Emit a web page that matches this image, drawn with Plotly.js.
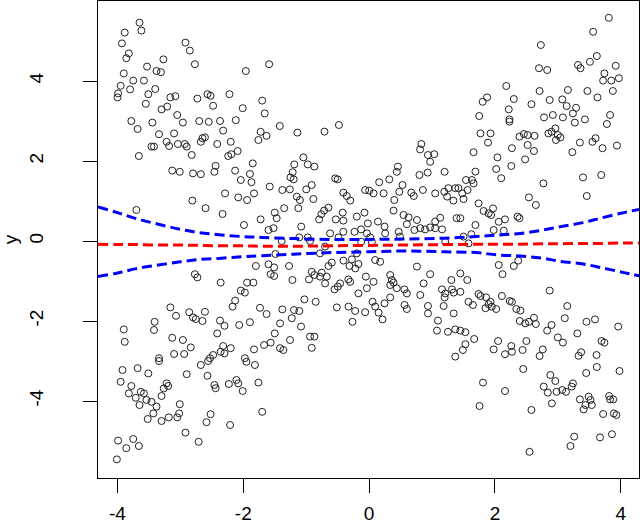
<!DOCTYPE html>
<html>
<head>
<meta charset="utf-8">
<script src="https://cdn.plot.ly/plotly-3.0.1.min.js"></script>
<style>
  html, body { margin: 0; padding: 0; background: #fff; }
  #chart { width: 640px; height: 526px; }
</style>
</head>
<body>
<div id="chart"></div>
<script>
// Scatter points, read off the picture region by region
// upper-left arm
const upLeftX = [-3.65,-3.62,-3.885,-3.93,-3.82,-3.86,-2.92,-2.85,-2.77,-3.27,-3.53,-3.38,-3.31,-3.90,-3.75,-3.58,-3.95,-3.80,-3.99,-4.00,-3.51,-3.40,-3.55,-3.16,-3.08,-2.73,-2.57,-2.52,-2.48,-2.22,-1.96,-1.59,-1.70,-2.01,-1.66,-3.30,-3.21,-3.05];
const upLeftY = [5.46,5.26,5.21,4.94,4.69,4.57,4.96,4.76,4.42,4.54,4.36,4.25,4.22,4.19,4.01,4.01,3.88,3.79,3.69,3.59,3.67,3.80,3.43,3.59,3.62,3.56,3.67,3.63,3.38,3.67,4.25,4.42,3.51,3.32,3.19,3.29,3.36,3.15];
const midLeftX = [-3.78,-3.68,-3.445,-2.96,-2.70,-2.55,-2.37,-2.12,-2.32,-3.34,-3.10,-3.22,-3.18,-3.46,-3.42,-3.04,-2.93,-2.90,-2.82,-3.66,-2.65,-2.61,-2.675,-2.415,-2.20,-2.09,-2.19,-2.24,-1.725,-1.63,-1.76,-1.85,-3.13,-3.01,-2.80,-2.675,-2.46,-2.44,-2.13,-1.895,-2.04,-1.87,-1.58,-2.29,-2.08,-1.94,-1.83,-2.81,-2.60,-2.33,-3.70,-1.50,-1.47,-1.725,-1.99,-1.60,-1.52];
const midLeftY = [3.00,2.80,2.96,2.96,3.00,2.98,3.00,3.02,2.76,2.67,2.69,2.48,2.375,2.36,2.36,2.425,2.425,2.36,2.15,2.125,2.57,2.59,2.48,2.425,2.48,2.25,2.17,2.125,2.73,2.63,2.525,1.94,1.76,1.73,1.69,1.67,1.73,1.88,1.76,1.675,1.525,1.47,1.36,1.19,1.09,1.025,1.19,1.01,0.82,0.675,0.775,0.71,0.57,0.54,0.40,0.275,0.32];
// lower-left arm
const lowLeftX = [-1.49,-1.80,-1.60,-1.51,-1.565,-1.51,-2.77,-2.73,-2.36,-1.94,-1.84,-2.04,-1.975,-2.13,-2.17,-1.735,-1.63,-3.16,-3.07,-2.86,-2.80,-2.755,-2.65,-2.61,-2.37,-2.30,-2.415,-2.065,-1.895,-3.41,-3.42,-3.90,-3.885,-3.13,-2.96,-2.835,-3.10,-2.94,-2.32,-2.20,-2.36,-2.30,-2.48,-1.83,-1.67,-1.565,-1.50,-3.34,-2.53,-1.975];
const lowLeftY = [-0.325,-0.625,-0.58,-0.66,-0.83,-0.875,-0.83,-0.91,-1.04,-1.04,-1.04,-1.24,-1.29,-1.49,-1.64,-1.67,-1.825,-1.66,-1.87,-1.78,-1.91,-1.95,-2.00,-1.77,-1.99,-2.12,-2.31,-2.10,-2.03,-2.02,-2.225,-2.21,-2.52,-2.42,-2.475,-2.66,-2.825,-2.825,-2.625,-2.68,-2.77,-2.81,-2.85,-2.71,-2.60,-2.54,-2.31,-2.93,-2.93,-2.93];
const botLeftX = [-3.92,-3.68,-3.51,-3.95,-3.78,-3.82,-3.71,-3.63,-3.58,-3.65,-3.54,-3.46,-3.38,-3.43,-3.52,-3.30,-3.30,-3.265,-3.22,-3.195,-3.185,-3.01,-3.02,-3.05,-2.90,-2.675,-2.56,-2.57,-2.46,-2.44,-2.52,-2.585,-2.23,-2.11,-2.08,-2.01,-1.76,-1.95,-1.815,-1.70,-2.21,-2.92,-2.71,-3.99,-3.75,-3.86,-3.66,-4.01,-3.34];
const botLeftY = [-3.225,-3.18,-3.31,-3.52,-3.625,-3.81,-3.92,-3.77,-3.81,-4.10,-3.975,-4.02,-4.14,-4.31,-4.45,-4.50,-3.875,-3.685,-3.56,-3.625,-4.41,-4.08,-4.31,-4.41,-3.33,-3.10,-3.00,-3.37,-3.60,-3.68,-4.33,-4.53,-3.575,-3.475,-3.56,-3.75,-3.54,-3.02,-3.10,-4.27,-4.60,-4.79,-5.02,-4.99,-4.95,-5.18,-5.125,-5.46,-3.0];
// upper-right arm
const upRightX = [3.81,3.56,2.73,2.70,2.83,3.32,3.36,3.51,3.62,3.92,3.74,3.72,3.85,3.97,3.875,2.18,1.875,1.805,2.30,2.71,2.87,3.07,3.14,3.16,2.58,2.22,3.47,3.63,3.29,3.24,1.75,2.23,2.78,2.92,3.08,3.83,3.43];
const upRightY = [5.58,5.23,4.90,4.32,4.275,4.40,4.32,4.48,4.625,4.38,4.19,4.01,4.01,4.07,3.75,3.875,3.59,3.48,3.55,3.75,3.525,3.54,3.375,3.775,3.42,3.29,3.75,3.59,3.33,3.19,3.125,3.04,3.09,3.15,3.09,3.15,3.04];
const midRightX = [2.23,3.27,3.78,1.77,1.93,1.89,2.39,2.46,2.52,2.63,2.85,2.90,2.96,3.00,3.04,2.97,2.52,2.62,2.27,1.66,2.04,2.48,2.26,2.02,2.10,1.69,1.54,1.635,1.66,1.565,1.42,1.48,1.50,2.77,3.23,3.35,3.55,3.60,3.71,3.94,3.40,3.69,3.46,2.54,2.65,1.74,1.82,1.94,1.97,1.90,1.45,2.36,2.39,2.16,2.06,1.69,1.98,2.14,1.625,1.50];
const midRightY = [2.985,2.96,2.925,2.69,2.69,2.46,2.61,2.675,2.65,2.63,2.69,2.73,2.815,2.65,2.59,2.525,2.40,2.25,2.32,2.22,2.09,2.04,1.875,1.80,1.57,1.735,1.525,1.525,1.44,1.275,1.32,1.19,1.05,1.44,2.22,2.46,2.48,2.57,2.32,2.385,1.59,1.65,1.125,1.09,0.90,0.94,0.75,0.65,0.815,0.69,0.57,0.61,0.57,0.54,0.48,0.40,0.275,0.26,0.17,0.11];
// lower-right arm
const lowRightX = [1.58,2.06,2.30,2.37,2.12,1.45,1.56,1.45,2.87,1.74,1.77,1.86,1.58,1.65,1.85,1.90,1.93,1.95,2.02,2.11,2.235,2.27,2.34,2.405,3.15,3.11,2.62,2.395,2.48,2.54,2.65,2.90,2.83,3.455,3.59,3.96,3.31,1.45,1.53,1.67,1.53,1.49,2.05,2.50,3.00,3.08,3.695,3.74,1.98,2.26,2.27,2.16,2.44,2.76,2.71,3.37,3.33,3.615];
const lowRightY = [-0.06,-0.60,-0.625,-0.49,-0.83,-0.81,-0.975,-1.27,-1.24,-1.325,-1.375,-1.41,-1.52,-1.60,-1.68,-1.58,-1.52,-1.64,-1.70,-1.375,-1.50,-1.52,-1.70,-1.74,-1.625,-1.93,-1.92,-2.0,-2.06,-2.02,-2.075,-2.10,-2.24,-2.02,-1.96,-2.14,-2.31,-2.24,-2.28,-2.45,-2.58,-2.725,-2.50,-2.50,-2.41,-2.54,-2.50,-2.54,-2.71,-2.625,-2.77,-2.83,-2.725,-2.71,-2.875,-2.78,-2.87,-2.85];
const botRightX = [1.81,1.755,2.16,2.58,2.55,2.775,2.84,2.905,2.98,3.07,3.13,3.22,3.24,2.96,3.35,3.41,3.44,3.49,3.54,3.52,3.72,3.815,3.83,3.88,3.93,3.89,3.67,3.86,3.26,3.20,2.45,3.45,3.62,3.98,2.88];
const botRightY = [-3.54,-4.125,-3.75,-4.225,-5.27,-3.64,-3.79,-4.06,-3.77,-3.725,-3.77,-3.64,-3.56,-3.50,-3.96,-4.21,-4.10,-3.89,-4.10,-3.975,-4.325,-3.875,-3.96,-3.96,-4.35,-4.31,-4.91,-4.83,-4.89,-5.125,-3.2,-3.3,-3.15,-3.25,-3.35];
// centre of the X
const centreUpX = [-1.42,-1.14,-0.71,-0.48,0.83,0.81,0.935,1.035,0.97,-1.045,-1.19,-0.976,-0.87,-1.215,-1.25,-1.20,0.457,0.44,0.80,0.93,1.20,-0.54,-0.50,0.16,0.32,0.53,-0.913,-1.00,-1.38,-1.26,-0.41,-0.355,-0.30,-0.063,0.001,0.07,0.23,0.48,0.40,0.67,0.71,0.855,1.05,1.195,1.26,1.24,1.34,1.37,-1.15,-1.10,-0.886,-1.125,-1.35,-0.647,-0.716,-0.76,-0.42,-0.074,-0.196,-0.795,-0.53,-0.41,0.388,0.547,0.627,0.76,1.13,1.05,1.39,-0.02,0.14,0.245,-1.08,-0.62,-0.487,-0.41,-0.233,-0.127,-0.036,0.255,0.47,0.60,0.72,0.813,0.89,0.97,1.05,1.16,-1.11,-0.976,0.49,0.017];
const centreUpY = [2.875,2.71,2.735,2.90,2.425,2.29,2.15,2.17,1.98,2.09,1.915,1.915,1.86,1.72,1.59,1.54,1.86,1.73,1.65,1.71,1.73,1.565,1.54,1.47,1.54,1.40,1.40,1.29,1.275,1.29,1.21,1.125,1.01,1.275,1.26,1.19,1.19,1.23,1.025,1.21,1.125,1.275,1.19,1.23,1.32,1.11,1.01,1.32,1.11,1.025,1.05,0.82,0.82,0.835,0.76,0.67,0.71,0.71,0.61,0.54,0.54,0.51,0.76,0.65,0.59,0.525,0.58,0.485,0.57,0.44,0.485,0.36,0.36,0.19,0.09,0.23,0.23,0.29,0.19,0.19,0.23,0.42,0.275,0.32,0.29,0.34,0.32,0.29,0.09,0.09,0.11,0.09];
const centreLowX = [-0.70,-1.39,-0.94,-0.127,0.043,1.21,-0.78,-0.196,-0.408,-0.275,-0.17,-0.312,-0.22,0.096,0.176,0.76,-1.273,-1.22,-0.912,-0.87,-0.753,-0.78,-0.673,-0.70,-0.594,-0.647,-0.955,-0.461,-0.498,-0.55,-0.33,-0.302,-0.052,-0.036,-0.17,0.07,0.335,0.36,0.388,0.335,0.56,0.60,0.44,0.335,0.813,0.866,0.97,1.158,1.307,1.317,1.344,1.21,1.20,-1.38,-1.194,-1.11,-1.23,-1.029,-0.85,-0.514,-0.328,-0.222,-0.265,-0.063,0.054,0.096,0.149,0.213,0.245,0.563,0.60,0.935,0.935,1.184,1.344,1.094,-1.416,-1.082,-1.257,-0.939,-0.87,-1.416,-1.363,-0.912,1.078,1.253,1.37,1.37];
const centreLowY = [-0.14,0.0,0.0,-0.02,-0.02,-0.02,-0.31,-0.31,-0.49,-0.46,-0.575,-0.625,-0.685,-0.475,-0.52,-0.64,-0.625,-0.975,-0.77,-0.85,-0.79,-0.89,-0.89,-1.06,-0.54,-0.625,-0.96,-1.06,-1.14,-1.21,-0.96,-1.02,-0.89,-1.18,-1.31,-1.02,-0.85,-0.975,-1.04,-1.10,-1.21,-1.31,-1.18,-1.41,-1.35,-1.06,-0.83,-1.21,-0.975,-1.21,-1.29,-1.31,-1.41,-1.71,-1.725,-1.75,-1.93,-1.46,-1.52,-1.66,-1.64,-1.75,-2.02,-1.78,-1.52,-1.64,-1.79,-1.96,-1.56,-1.60,-1.70,-1.625,-1.81,-1.625,-1.81,-1.99,-2.06,-2.14,-2.475,-2.39,-2.39,-2.68,-2.725,-2.67,-2.24,-2.27,-2.21,-2.89];

// fitted line and its band
const fitX   = [-4.31,-4,-3.7,-3.35,-3,-2.7,-2.35,-2,-1.7,-1.2,-0.6,0,0.6,1.2,1.7,2.05,2.4,2.75,3.05,3.4,3.7,4.05,4.29];
const fitY   = [-0.08,-0.09,-0.09,-0.10,-0.10,-0.11,-0.12,-0.12,-0.13,-0.13,-0.12,-0.11,-0.10,-0.09,-0.08,-0.08,-0.08,-0.07,-0.07,-0.06,-0.06,-0.05,-0.05];
const upperY = [0.85,0.71,0.56,0.42,0.29,0.21,0.15,0.11,0.09,0.06,0.04,0.04,0.05,0.07,0.11,0.15,0.19,0.27,0.36,0.46,0.58,0.71,0.79];
const lowerY = [-0.89,-0.80,-0.69,-0.60,-0.52,-0.46,-0.43,-0.39,-0.37,-0.33,-0.29,-0.27,-0.25,-0.27,-0.29,-0.35,-0.375,-0.43,-0.51,-0.575,-0.67,-0.79,-0.87];

const tickVals = [-4, -2, 0, 2, 4];
const tickText = ['-4', '-2', '0', '2', '4'];

const allX = [].concat(upLeftX, midLeftX, lowLeftX, botLeftX, upRightX, midRightX, lowRightX, botRightX, centreUpX, centreLowX);
const allY = [].concat(upLeftY, midLeftY, lowLeftY, botLeftY, upRightY, midRightY, lowRightY, botRightY, centreUpY, centreLowY);

const dashStyle = '10px,5px';

const traces = [
    {
        x: allX, y: allY,
        type: 'scatter', mode: 'markers',
        marker: { symbol: 'circle-open', size: 7, color: '#222', line: { width: 1 } },
        hoverinfo: 'skip'
    },
    {
        x: fitX, y: upperY, type: 'scatter', mode: 'lines',
        line: { color: '#0000ff', width: 3, dash: dashStyle, shape: 'spline' }
    },
    {
        x: fitX, y: lowerY, type: 'scatter', mode: 'lines',
        line: { color: '#0000ff', width: 3, dash: dashStyle, shape: 'spline' }
    },
    {
        x: fitX, y: fitY, type: 'scatter', mode: 'lines',
        line: { color: '#ff0000', width: 3, dash: dashStyle, shape: 'spline' }
    }
];

const axisFont = { family: 'Liberation Sans, Arial, sans-serif', size: 19, color: '#000' };

const layout = {
    width: 640,
    height: 526,
    margin: { l: 98, r: 1, t: 1, b: 48 },
    showlegend: false,
    paper_bgcolor: '#fff',
    plot_bgcolor: '#fff',
    xaxis: {
        range: [-4.31, 4.29],
        tickmode: 'array', tickvals: tickVals, ticktext: tickText,
        ticks: 'outside', ticklen: 14, tickwidth: 1, tickcolor: '#000',
        ticklabelstandoff: 4,
        showline: true, mirror: true, linecolor: '#000', linewidth: 1,
        showgrid: false, zeroline: false,
        tickfont: axisFont
    },
    yaxis: {
        range: [-5.925, 6.0],
        tickmode: 'array', tickvals: tickVals, ticktext: tickText,
        tickangle: -90,
        ticks: 'outside', ticklen: 14, tickwidth: 1, tickcolor: '#000',
        ticklabelstandoff: 32,
        showline: true, mirror: true, linecolor: '#000', linewidth: 1,
        showgrid: false, zeroline: false,
        tickfont: axisFont,
        title: { text: 'y', font: axisFont, standoff: 18 }
    }
};

Plotly.newPlot('chart', traces, layout, { staticPlot: true });
</script>
</body>
</html>
